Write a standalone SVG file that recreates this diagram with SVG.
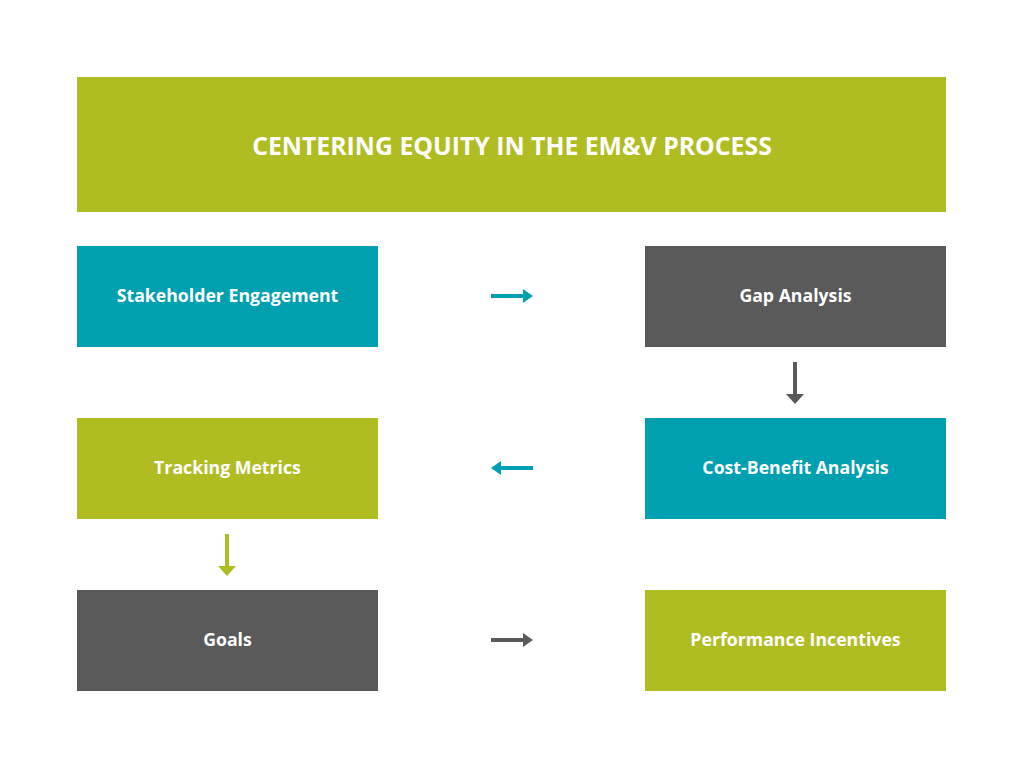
<svg xmlns="http://www.w3.org/2000/svg" width="1024" height="768" viewBox="0 0 1024 768">
<style>
.t{font-family:"Open Sans","Liberation Sans",sans-serif;font-weight:bold;fill:#fff;text-anchor:middle;dominant-baseline:central}
.n{font-size:17.7px}
.h{font-size:24.8px}
.g{fill:#AFBD22}.b{fill:#00A0B0}.d{fill:#5A5A5A}
</style>
<rect width="1024" height="768" fill="#fff"/>
<g id="title"><rect class="g" x="77" y="77" width="869" height="135"/><text class="t h" x="512" y="145">CENTERING EQUITY IN THE EM&amp;V PROCESS</text></g>
<g id="stakeholder"><rect class="b" x="77" y="246" width="301" height="101"/><text class="t n" x="227.5" y="295">Stakeholder Engagement</text></g>
<g id="gap"><rect class="d" x="645" y="246" width="301" height="101"/><text class="t n" x="795.5" y="295">Gap Analysis</text></g>
<g id="tracking"><rect class="g" x="77" y="418" width="301" height="101"/><text class="t n" x="227.5" y="467">Tracking Metrics</text></g>
<g id="costbenefit"><rect class="b" x="645" y="418" width="301" height="101"/><text class="t n" x="795.5" y="467">Cost-Benefit Analysis</text></g>
<g id="goals"><rect class="d" x="77" y="590" width="301" height="101"/><text class="t n" x="227.5" y="639">Goals</text></g>
<g id="incentives"><rect class="g" x="645" y="590" width="301" height="101"/><text class="t n" x="795.5" y="639">Performance Incentives</text></g>
<g id="connectors">
<polygon class="b" points="491,294 523,294 523,289 533,296 523,303 523,298 491,298"/>
<polygon class="d" points="793,362 797,362 797,394 804,394 795,404 786,394 793,394"/>
<polygon class="b" points="533,466 501,466 501,461 491,468 501,475 501,470 533,470"/>
<polygon class="g" points="225,534 229,534 229,566 236,566 227,576 218,566 225,566"/>
<polygon class="d" points="491,638 523,638 523,633 533,640 523,647 523,642 491,642"/>
</g>
</svg>
